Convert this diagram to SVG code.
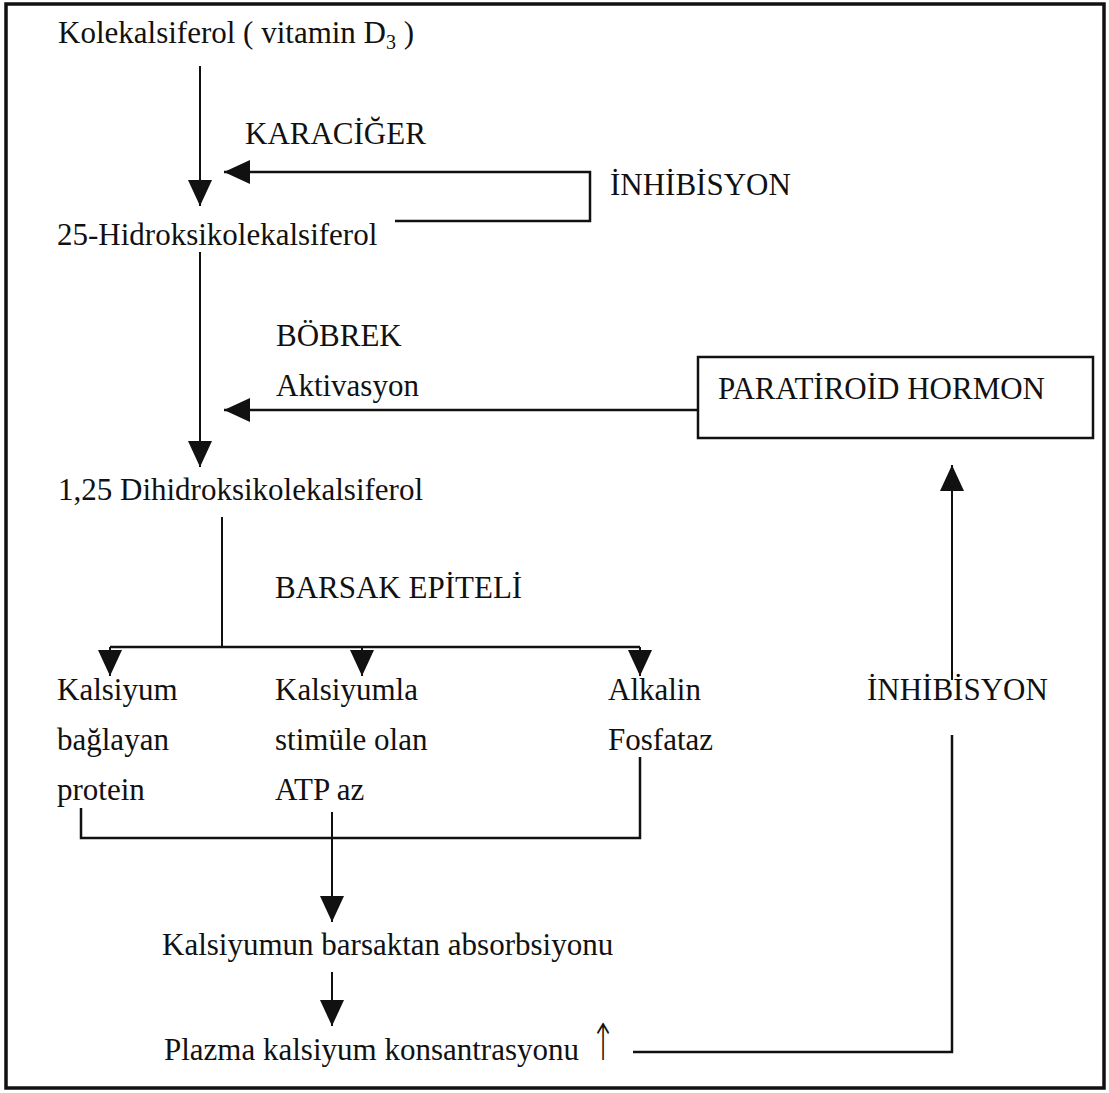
<svg xmlns="http://www.w3.org/2000/svg" width="1109" height="1093" viewBox="0 0 1109 1093">
<style>
text{font-family:"Liberation Serif","Times New Roman",serif;font-size:31px;fill:#111}
.ln{fill:none;stroke:#111;stroke-width:2.5}
.thin{fill:none;stroke:#111;stroke-width:2}
.bd{fill:none;stroke:#111;stroke-width:3.5}
</style>
<defs>
<marker id="ah" viewBox="0 0 26 24" refX="26" refY="12" markerWidth="26" markerHeight="24" markerUnits="userSpaceOnUse" orient="auto">
<path d="M0,0 L26,12 L0,24 Z" fill="#111"/>
</marker>
</defs>
<rect x="6" y="4" width="1098" height="1084" class="bd"/>

<g id="connectors">
<line x1="200" y1="66" x2="200" y2="206" class="thin" marker-end="url(#ah)"/>
<polyline points="395,221 590,221 590,172 224,172" class="ln" marker-end="url(#ah)"/>
<line x1="200" y1="252" x2="200" y2="467" class="thin" marker-end="url(#ah)"/>
<line x1="697" y1="410" x2="224" y2="410" class="ln" marker-end="url(#ah)"/>
<line x1="222" y1="517" x2="222" y2="647" class="thin"/>
<line x1="110" y1="647" x2="640" y2="647" class="ln"/>
<line x1="110" y1="647" x2="110" y2="676" class="thin" marker-end="url(#ah)"/>
<line x1="362" y1="647" x2="362" y2="676" class="thin" marker-end="url(#ah)"/>
<line x1="640" y1="647" x2="640" y2="676" class="thin" marker-end="url(#ah)"/>
<polyline points="81,808 81,838 640,838 640,757" class="ln"/>
<line x1="332" y1="812" x2="332" y2="922" class="thin" marker-end="url(#ah)"/>
<line x1="332" y1="972" x2="332" y2="1026" class="thin" marker-end="url(#ah)"/>
<polyline points="633,1052 952,1052 952,735" class="ln"/>
<line x1="952" y1="680" x2="952" y2="465" class="thin" marker-end="url(#ah)"/>
</g>

<g id="n-vitd3"><text x="58" y="43">Kolekalsiferol ( vitamin D<tspan font-size="20" dy="6">3</tspan><tspan dy="-6"> )</tspan></text></g>
<g id="l-karaciger"><text x="245" y="144">KARACİĞER</text></g>
<g id="l-inhibisyon1"><text x="610" y="195">İNHİBİSYON</text></g>
<g id="n-25oh"><text x="57" y="245">25-Hidroksikolekalsiferol</text></g>
<g id="l-bobrek"><text x="276" y="346">BÖBREK</text></g>
<g id="l-aktivasyon"><text x="276" y="396">Aktivasyon</text></g>
<g id="n-pth"><rect x="698" y="357" width="395" height="81" class="ln"/><text x="718" y="399">PARATİROİD HORMON</text></g>
<g id="n-125oh"><text x="58" y="500">1,25 Dihidroksikolekalsiferol</text></g>
<g id="l-barsak"><text x="275" y="598">BARSAK EPİTELİ</text></g>
<g id="n-cbp"><text x="57" y="700">Kalsiyum</text><text x="57" y="750">bağlayan</text><text x="57" y="800">protein</text></g>
<g id="n-atpaz"><text x="275" y="700">Kalsiyumla</text><text x="275" y="750">stimüle olan</text><text x="275" y="800">ATP az</text></g>
<g id="n-alp"><text x="608" y="700">Alkalin</text><text x="608" y="750">Fosfataz</text></g>
<g id="l-inhibisyon2"><text x="867" y="700">İNHİBİSYON</text></g>
<g id="n-absorb"><text x="162" y="955">Kalsiyumun barsaktan absorbsiyonu</text></g>
<g id="n-plazma"><text x="164" y="1060">Plazma kalsiyum konsantrasyonu</text><text transform="translate(603 1060) scale(1 1.7)" text-anchor="middle" style="font-family:'DejaVu Sans',sans-serif;font-size:30px;font-weight:300">↑</text></g>
</svg>
